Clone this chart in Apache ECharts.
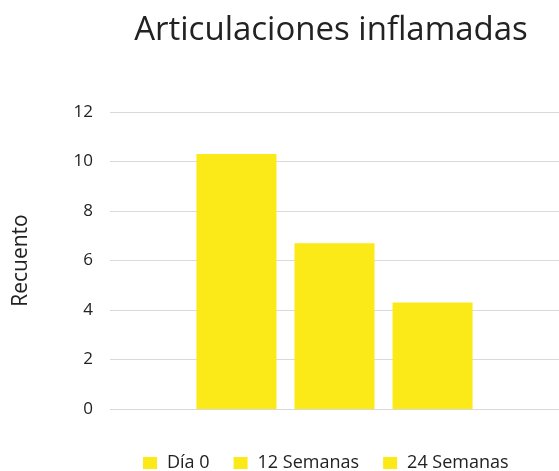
<!DOCTYPE html>
<html><head><meta charset="utf-8">
<script src="https://cdn.jsdelivr.net/npm/echarts@6/dist/echarts.min.js"></script>
<style>html,body{margin:0;padding:0;background:#fff}#c{width:559px;height:471px}</style>
</head><body><div id="c"></div>
<script>
const categories = ['Articulaciones inflamadas'];
const seriesNames = ['Día 0', '12 Semanas', '24 Semanas'];
const seriesValues = [[10.3], [6.7], [4.3]];
const yTicks = [0, 2, 4, 6, 8, 10, 12];

const chart = echarts.init(document.getElementById('c'));
const font = '"Open Sans", "Noto Sans", sans-serif';
chart.setOption({
  animation: false,
  title: {
    text: 'Articulaciones inflamadas',
    left: 326, top: 9, textAlign: 'center',
    textStyle: { fontFamily: font, fontSize: 33, fontWeight: 'normal', color: '#222' }
  },
  legend: {
    top: 454, left: 143, padding: 0,
    itemWidth: 14, itemHeight: 12, itemGap: 24,
    icon: 'rect',
    textStyle: { fontFamily: font, fontSize: 18, lineHeight: 18, color: '#222', padding: [0, 0, 0, 5] },
    data: seriesNames
  },
  grid: { left: 110, right: 0, top: 112, bottom: 62 },
  xAxis: {
    type: 'category', data: categories,
    axisLine: { show: false }, axisTick: { show: false }, axisLabel: { show: false }
  },
  yAxis: {
    type: 'value', min: yTicks[0], max: yTicks[yTicks.length - 1], interval: 2,
    name: 'Recuento', nameLocation: 'middle', nameGap: 78, nameRotate: 90,
    nameTextStyle: { fontFamily: font, fontSize: 21, color: '#222' },
    axisLabel: { fontFamily: font, fontSize: 17, color: '#222', margin: 17 },
    splitLine: { lineStyle: { color: '#d9d9d9', width: 1 } },
    axisLine: { show: false }, axisTick: { show: false }
  },
  series: seriesNames.map((n, i) => ({
    name: n, type: 'bar', data: seriesValues[i],
    barGap: '22.5%', barCategoryGap: '38.5%',
    itemStyle: { color: '#FCE918' }
  }))
});
</script></body></html>
